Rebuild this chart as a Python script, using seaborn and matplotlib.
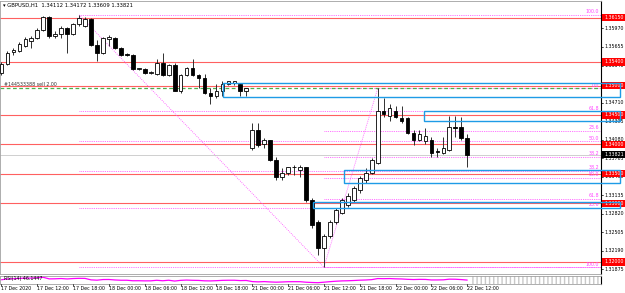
import numpy as np
import pandas as pd
import matplotlib
matplotlib.use("Agg")
import matplotlib.pyplot as plt
import seaborn as sns
from matplotlib.patches import Rectangle

sns.set_theme(style="white")
plt.rcParams["font.family"] = ["DejaVu Sans"]

# ---------------- data (GBPUSD H1) ----------------
opens = [1.3522, 1.3537, 1.3557, 1.3559, 1.3567, 1.3576, 1.3581, 1.3595, 1.3617, 1.3584,
         1.3588, 1.3598, 1.3588, 1.3605, 1.3601, 1.3613, 1.3569, 1.3556, 1.3579, 1.3581,
         1.3564, 1.3554, 1.3552, 1.3528, 1.3528, 1.3522, 1.3520, 1.3539, 1.3518, 1.3535,
         1.3490, 1.3518, 1.3530, 1.3518, 1.3512, 1.3488, 1.3483, 1.3491, 1.3503, 1.3505,
         1.3503, 1.3490, 1.3393, 1.3424, 1.3401, 1.3407, 1.3374, 1.3344, 1.3351, 1.3361,
         1.3357, 1.3361, 1.3305, 1.3268, 1.3224, 1.3244, 1.3268, 1.3284, 1.3296, 1.3305,
         1.3322, 1.3339, 1.3352, 1.3369, 1.3457, 1.3449, 1.3457, 1.3444, 1.3444, 1.3420,
         1.3407, 1.3405, 1.3408, 1.3388, 1.3386, 1.3390, 1.3430, 1.3429, 1.34112]
highs = [1.3540, 1.3559, 1.3564, 1.3574, 1.3583, 1.3584, 1.3598, 1.3618, 1.3618, 1.3593,
         1.3601, 1.3600, 1.3606, 1.3620, 1.3617, 1.3615, 1.3578, 1.3583, 1.3586, 1.3583,
         1.3566, 1.3556, 1.3554, 1.3530, 1.3530, 1.3525, 1.3545, 1.3556, 1.3537, 1.3539,
         1.3520, 1.3532, 1.3545, 1.3520, 1.3520, 1.3496, 1.3503, 1.3508, 1.3508, 1.3508,
         1.3505, 1.3496, 1.3437, 1.3437, 1.3410, 1.3408, 1.3378, 1.3359, 1.3362, 1.3364,
         1.3364, 1.3362, 1.3308, 1.3271, 1.3248, 1.3271, 1.3291, 1.3308, 1.3317, 1.3329,
         1.3346, 1.3359, 1.3376, 1.3495, 1.3478, 1.3469, 1.3466, 1.3466, 1.3447, 1.3424,
         1.3424, 1.3427, 1.3412, 1.3393, 1.3412, 1.3449, 1.3449, 1.3447, 1.34172]
lows = [1.3518, 1.3535, 1.3552, 1.3557, 1.3566, 1.3564, 1.3579, 1.3593, 1.3581, 1.3581,
        1.3581, 1.3556, 1.3586, 1.3601, 1.3600, 1.3567, 1.3542, 1.3554, 1.3567, 1.3562,
        1.3550, 1.3550, 1.3527, 1.3527, 1.3520, 1.3520, 1.3518, 1.3517, 1.3517, 1.3490,
        1.3488, 1.3517, 1.3517, 1.3495, 1.3486, 1.3469, 1.3478, 1.3483, 1.3501, 1.3501,
        1.3483, 1.3483, 1.3391, 1.3396, 1.3393, 1.3371, 1.3339, 1.3339, 1.3347, 1.3347,
        1.3345, 1.3302, 1.3257, 1.3212, 1.3191, 1.3241, 1.3264, 1.3281, 1.3293, 1.3302,
        1.3318, 1.3335, 1.3349, 1.3366, 1.3447, 1.3440, 1.3444, 1.3437, 1.3418, 1.3398,
        1.3405, 1.3401, 1.3378, 1.3379, 1.3383, 1.3388, 1.3412, 1.3408, 1.33609]
closes = [1.3537, 1.3556, 1.3561, 1.3571, 1.3579, 1.3581, 1.3595, 1.3617, 1.3584, 1.3588,
          1.3598, 1.3588, 1.3605, 1.3615, 1.3613, 1.3569, 1.3556, 1.3581, 1.3583, 1.3564,
          1.3552, 1.3552, 1.3528, 1.3529, 1.3522, 1.3523, 1.3539, 1.3518, 1.3535, 1.3491,
          1.3518, 1.3530, 1.3518, 1.3512, 1.3488, 1.3483, 1.3491, 1.3503, 1.3507, 1.3507,
          1.3491, 1.3495, 1.3424, 1.3398, 1.3407, 1.3373, 1.3344, 1.3351, 1.3361, 1.3362,
          1.3362, 1.3305, 1.3263, 1.3224, 1.3244, 1.3268, 1.3288, 1.3305, 1.3312, 1.3325,
          1.3342, 1.3352, 1.3373, 1.3457, 1.3451, 1.3461, 1.3447, 1.3440, 1.3420, 1.3407,
          1.3418, 1.3415, 1.3386, 1.3387, 1.3393, 1.3430, 1.3427, 1.3410, 1.33821]

time_labels = ["17 Dec 2020", "17 Dec 12:00", "17 Dec 18:00", "18 Dec 00:00", "18 Dec 06:00",
               "18 Dec 12:00", "18 Dec 18:00", "21 Dec 00:00", "21 Dec 06:00", "21 Dec 12:00",
               "21 Dec 18:00", "22 Dec 00:00", "22 Dec 06:00", "22 Dec 12:00"]
time_label_bars = [0, 6, 12, 18, 24, 30, 36, 42, 48, 54, 60, 66, 72, 78]

price_ticks = [1.35970, 1.35655, 1.35340, 1.35025, 1.34710, 1.34395, 1.34080, 1.33765,
               1.33450, 1.33135, 1.32820, 1.32505, 1.32190, 1.31875]
red_levels = [1.36150, 1.35400, 1.35000, 1.34500, 1.34000, 1.33500, 1.33000, 1.32000]

fib_levels = [0.0, 23.6, 38.2, 50.0, 61.8, 100.0]
fibA_bars = [13, 54]          # high -> low
fibB_bars = [54, 63]          # low -> high

zones_lo = [1.3481, 1.3440, 1.3334, 1.3291]
zones_hi = [1.3505, 1.3457, 1.3357, 1.3302]
zones_start = [37.1, 70.8, 57.4, 52.2]

order_price = 1.3495
order_text = "#144533388 sell 2.00"
title_text = "GBPUSD,H1  1.34112 1.34172 1.33609 1.33821"
rsi_text = "RSI(14) 46.1447"

# ---------------- figure ----------------
W, H = 625, 293
fig = plt.figure(figsize=(W / 100, H / 100), dpi=100)
fig.patch.set_facecolor("white")

def fx(px):
    return px / W

def fy(py):
    return 1 - py / H

AX_R = 601
ax = fig.add_axes([0, fy(274), fx(AX_R), fy(1) - fy(274)])
axr = fig.add_axes([0, fy(284), fx(AX_R), fy(275.5) - fy(284)])

n = len(closes)
x = np.arange(n)
df = pd.DataFrame({"x": x, "open": opens, "high": highs, "low": lows, "close": closes})

XMIN, XMAX = -0.25, 100.4
YTOP, YBOT = 1.36437, 1.31795
PPX = (YTOP - YBOT) / 274.0
ax.set_xlim(XMIN, XMAX)
ax.set_ylim(YBOT, YTOP)
ax.set_xticks([])
ax.set_yticks([])
for s in ["top", "left", "bottom"]:
    ax.spines[s].set_color("#a0a0a0")
    ax.spines[s].set_linewidth(0.6)
ax.spines["right"].set_color("black")
ax.spines["right"].set_linewidth(0.8)

fs = 3.4
RED = "#ff6060"
MAG = "#ff44ff"
BLUE = "#1e9be6"

# red horizontal lines
for lv in red_levels:
    ax.axhline(lv, color=RED, lw=0.8, zorder=1)

# fib A
hA = df["high"][fibA_bars[0]]
lA = df["low"][fibA_bars[1]]
for lv in fib_levels:
    p = lA + lv / 100 * (hA - lA)
    ax.plot([fibA_bars[0], XMAX], [p, p], color=MAG, lw=0.6, ls=(0, (1, 1.2)), zorder=1)
    if lv > 0:
        ax.text(XMAX - 0.3, p + PPX * 0.5, f"{lv:.1f}", color=MAG, fontsize=fs,
                ha="right", va="bottom", zorder=6)
ax.plot(fibA_bars, [hA, lA], color=MAG, lw=0.6, ls=(0, (1, 1.5)), zorder=1)
# fib B
lB = df["low"][fibB_bars[0]]
hB = df["high"][fibB_bars[1]]
for lv in fib_levels:
    p = hB - lv / 100 * (hB - lB)
    ax.plot([fibB_bars[0], XMAX], [p, p], color=MAG, lw=0.6, ls=(0, (1, 1.2)), zorder=1)
    ax.text(XMAX - 0.3, p + PPX * 0.5, f"{lv:.1f}", color=MAG, fontsize=fs,
            ha="right", va="bottom", zorder=6)
ax.plot(fibB_bars, [lB, hB], color=MAG, lw=0.6, ls=(0, (1, 1.5)), zorder=1)

# order line
ax.axhline(order_price, color="#4cb04c", lw=0.9, ls=(0, (3, 2)), zorder=2)
ax.text(0.5, order_price + PPX * 1.5, order_text, fontsize=fs, color="#333333",
        ha="left", va="bottom")

# bid line
ax.axhline(closes[-1], color="#c8c8c8", lw=0.6, zorder=1)

# zones
xr = (620 - 1.5) / 5.97
for lo, hi, xs in zip(zones_lo, zones_hi, zones_start):
    ax.add_patch(Rectangle((xs, lo), xr - xs, hi - lo, fill=False, ec=BLUE, lw=1.0,
                           clip_on=False, zorder=9))

# candles
up = df["close"] >= df["open"]
ax.vlines(df["x"], df["low"], df["high"], color="#303030", lw=0.7, zorder=3)
body_lo = np.minimum(df["open"], df["close"])
body_h = np.maximum(np.abs(df["close"] - df["open"]), 0.00003)
ax.bar(df["x"][up], body_h[up], bottom=body_lo[up], width=0.62, color="white",
       edgecolor="black", linewidth=0.6, zorder=4)
ax.bar(df["x"][~up], body_h[~up], bottom=body_lo[~up], width=0.62, color="black",
       edgecolor="black", linewidth=0.6, zorder=4)

# title
ax.text(0.3, YTOP - PPX * 1.5, "\u25BE " + title_text, fontsize=3.8, color="black",
        ha="left", va="top")

# price axis labels
tx = 1.006
ytr = ax.get_yaxis_transform()
for p in price_ticks:
    ax.text(tx, p, f"{p:.5f}", transform=ytr, fontsize=fs,
            color="black", ha="left", va="center", clip_on=False)
    ax.plot([1.0, 1.004], [p, p], transform=ytr, color="black", lw=0.5, clip_on=False)

def axis_box(price, fc):
    ax.add_patch(Rectangle((1.002, price - PPX * 3.6), 0.038, PPX * 7.2, transform=ytr,
                           fc=fc, ec="none", clip_on=False, zorder=8))
    ax.text(tx, price, f"{price:.5f}", transform=ytr, fontsize=fs, color="white",
            ha="left", va="center", clip_on=False, zorder=8.5)

for lv in red_levels:
    axis_box(lv, "#ff0000")
axis_box(closes[-1], "black")

# RSI (derived from closes)
c = np.array(closes)
d = np.diff(c, prepend=c[0])
g = np.where(d > 0, d, 0.0)
l = np.where(d < 0, -d, 0.0)
ag = np.zeros(n); al = np.zeros(n)
ag[0], al[0] = 0.0003, 0.0003
for i in range(1, n):
    ag[i] = (ag[i - 1] * 13 + g[i]) / 14
    al[i] = (al[i - 1] * 13 + l[i]) / 14
rsi = 100 - 100 / (1 + ag / np.maximum(al, 1e-9))
sns.lineplot(x=x, y=rsi, ax=axr, color="#ff00ff", lw=0.9)
axr.set_xlim(XMIN, XMAX)
axr.set_ylim(0, 100)
axr.set_xticks([]); axr.set_yticks([])
axr.set_xlabel(""); axr.set_ylabel("")
for s in ["top", "left", "bottom"]:
    axr.spines[s].set_color("#a0a0a0")
    axr.spines[s].set_linewidth(0.6)
axr.spines["right"].set_color("black")
axr.spines["right"].set_linewidth(0.8)
axr.add_patch(Rectangle((n - 0.5, 5), XMAX - n + 0.5, 90, fill=False, hatch="||||",
                        ec="#c8c8c8", lw=0))
axr.text(0.4, 96, rsi_text, fontsize=fs, color="black", ha="left", va="top")

# time labels
for b, t in zip(time_label_bars, time_labels):
    xf = fx(1.5 + 5.97 * b)
    fig.text(xf, fy(288.5), t, fontsize=fs, ha="left", va="center", color="black")
    fig.add_artist(plt.Line2D([xf, xf], [fy(284), fy(286)], color="black", lw=0.5))

fig.savefig("out.png", dpi=100, facecolor="white")
